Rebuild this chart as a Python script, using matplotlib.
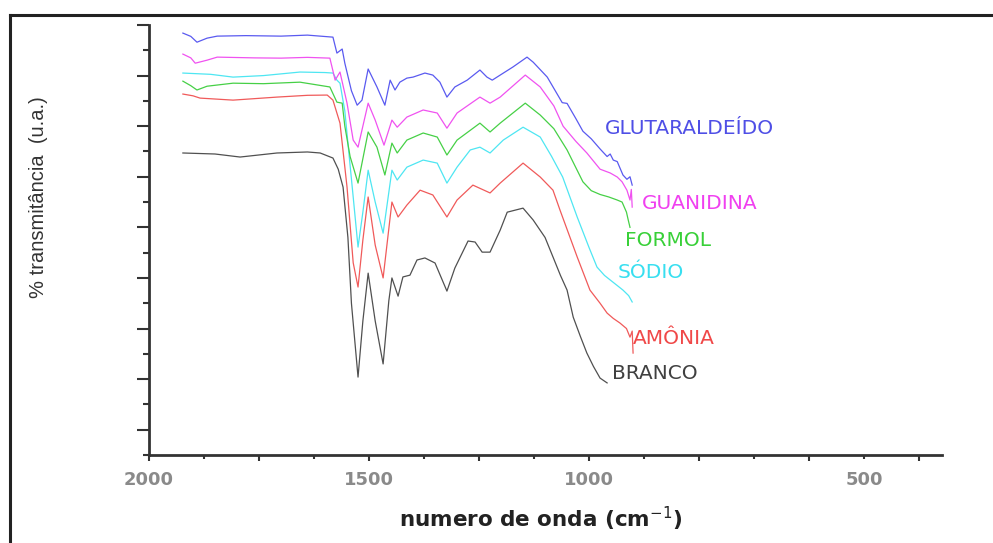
import matplotlib.pyplot as plt
from matplotlib.lines import Line2D
from matplotlib.ticker import MultipleLocator
from matplotlib.transforms import blended_transform_factory

plt.rcParams['font.family'] = ['Liberation Sans', 'DejaVu Sans']

# wavenumber (cm-1) and transmittance (a.u., curves offset)
branco_w = [1923, 1850, 1793, 1709, 1640, 1611, 1582, 1570, 1559, 1548, 1540, 1525, 1514, 1502, 1486,
            1468, 1455, 1448, 1434, 1423, 1407, 1391, 1373, 1350, 1323, 1305, 1275, 1259, 1243, 1225,
            1202, 1186, 1150, 1127, 1100, 1082, 1065, 1050, 1036, 1020, 1005, 990, 975, 959]
branco_t = [11.94, 11.90, 11.78, 11.94, 11.98, 11.94, 11.74, 11.30, 10.59, 8.60, 6.00, 3.08, 5.30, 7.19, 5.30,
            3.60, 6.10, 7.00, 6.28, 7.04, 7.11, 7.71, 7.79, 7.59, 6.48, 7.39, 8.46, 8.42, 8.02, 8.02,
            8.89, 9.60, 9.76, 9.29, 8.60, 7.83, 7.10, 6.52, 5.45, 4.70, 4.03, 3.50, 3.04, 2.85]

amonia_w = [1923, 1900, 1884, 1809, 1709, 1640, 1595, 1582, 1566, 1550, 1536, 1525, 1514, 1502, 1486,
            1468, 1448, 1434, 1414, 1384, 1355, 1323, 1300, 1264, 1225, 1202, 1150, 1111, 1082, 1066,
            1027, 998, 975, 959, 945, 930, 915, 907, 902, 900]
amonia_t = [14.27, 14.20, 14.11, 14.03, 14.15, 14.22, 14.23, 14.03, 13.12, 10.59, 7.60, 6.64, 8.50, 10.20, 8.30,
            7.00, 10.00, 9.41, 9.88, 10.47, 10.28, 9.41, 10.08, 10.67, 10.36, 10.75, 11.54, 10.99, 10.47, 9.68,
            7.83, 6.52, 6.00, 5.61, 5.40, 5.22, 5.00, 4.66, 4.90, 4.03]

sodio_w = [1923, 1860, 1809, 1740, 1657, 1600, 1582, 1573, 1566, 1555, 1545, 1536, 1525, 1514, 1502,
           1486, 1468, 1448, 1436, 1414, 1377, 1345, 1323, 1300, 1270, 1248, 1225, 1195, 1150, 1111,
           1085, 1060, 1027, 1000, 982, 965, 952, 936, 923, 910, 902]
sodio_t = [15.10, 15.05, 14.94, 15.00, 15.14, 15.12, 15.10, 14.82, 14.70, 13.60, 11.80, 10.20, 8.22, 9.60, 11.26,
           10.00, 8.77, 11.26, 10.87, 11.38, 11.66, 11.54, 10.75, 11.38, 12.06, 12.17, 11.94, 12.45, 12.96, 12.57,
           11.80, 10.99, 9.41, 8.20, 7.43, 7.10, 6.92, 6.70, 6.52, 6.30, 6.05]

formol_w = [1923, 1905, 1891, 1868, 1809, 1740, 1657, 1589, 1573, 1561, 1555, 1543, 1525, 1502, 1482,
            1464, 1448, 1436, 1414, 1377, 1345, 1323, 1300, 1248, 1225, 1202, 1145, 1111, 1080, 1050,
            1014, 995, 975, 955, 936, 925, 915, 911, 907]
formol_t = [14.78, 14.60, 14.43, 14.58, 14.70, 14.68, 14.74, 14.55, 13.95, 13.91, 13.00, 11.80, 10.75, 12.77, 12.17,
            11.07, 12.33, 11.94, 12.45, 12.73, 12.57, 11.86, 12.45, 13.12, 12.77, 13.12, 13.91, 13.44, 12.90, 12.06,
            10.80, 10.45, 10.30, 10.20, 10.08, 10.00, 9.60, 9.29, 9.00]

guan_w = [1923, 1905, 1895, 1868, 1845, 1760, 1700, 1640, 1589, 1577, 1566, 1550, 1536, 1525, 1502,
          1486, 1466, 1448, 1436, 1414, 1377, 1345, 1323, 1300, 1248, 1225, 1202, 1145, 1111, 1080,
          1059, 1030, 1005, 975, 952, 936, 925, 914, 907, 904, 902]
guan_t = [15.85, 15.70, 15.49, 15.61, 15.73, 15.70, 15.69, 15.72, 15.69, 14.82, 15.14, 13.91, 12.45, 12.17, 13.91,
          13.24, 12.25, 13.24, 12.96, 13.36, 13.64, 13.52, 12.92, 13.52, 14.15, 13.91, 14.15, 15.02, 14.55, 13.80,
          13.00, 12.40, 11.94, 11.30, 11.15, 10.99, 10.80, 10.47, 10.08, 10.50, 9.80]

glut_w = [1923, 1905, 1891, 1868, 1845, 1780, 1700, 1640, 1611, 1582, 1573, 1561, 1555, 1540, 1527,
          1516, 1502, 1482, 1464, 1452, 1441, 1430, 1414, 1400, 1373, 1355, 1339, 1323, 1305, 1277,
          1248, 1232, 1220, 1202, 1173, 1141, 1127, 1095, 1061, 1050, 1030, 1014, 995, 975, 959,
          952, 945, 936, 923, 914, 907, 902]
glut_t = [16.68, 16.55, 16.32, 16.48, 16.56, 16.58, 16.56, 16.60, 16.56, 16.52, 15.89, 16.05, 15.49, 14.40, 13.83,
          14.03, 15.26, 14.55, 13.83, 14.82, 14.43, 14.74, 14.90, 14.94, 15.10, 15.02, 14.74, 14.15, 14.55, 14.82,
          15.22, 14.94, 14.82, 15.02, 15.34, 15.73, 15.53, 14.94, 13.93, 13.90, 13.30, 12.80, 12.50, 12.10, 11.80,
          11.90, 11.66, 11.60, 11.07, 10.90, 11.00, 10.67]

names = ['BRANCO', 'AMÔNIA', 'SÓDIO', 'FORMOL', 'GUANIDINA', 'GLUTARALDEÍDO']
label_w = [948, 900, 936, 918, 880, 964]
label_t = [3.24, 4.62, 7.23, 8.5, 9.96, 12.92]

series = [(branco_w, branco_t), (amonia_w, amonia_t), (sodio_w, sodio_t),
          (formol_w, formol_t), (guan_w, guan_t), (glut_w, glut_t)]
line_colors = ['#505050', '#f05a5a', '#4ee6f2', '#46d046', '#f052f0', '#5a5af0']
text_colors = ['#404040', '#f04848', '#38dff0', '#38d038', '#f040f0', '#4f4fe6']

fig = plt.figure(figsize=(9.93, 5.43), dpi=100)
ax = fig.add_axes([149 / 993, 88 / 543, 793 / 993, 430 / 543])

for (w, t), c in zip(series, line_colors):
    ax.plot(w, t, color=c, lw=0.9)

for name, lw_, lt, c in zip(names, label_w, label_t, text_colors):
    ax.text(lw_, lt, name, color=c, fontsize=14.5, ha='left', va='center',
            family='DejaVu Sans')

ax.set_xlim(2000, 198)
ax.set_ylim(0, 17)

ax.xaxis.set_major_locator(MultipleLocator(250))
ax.xaxis.set_minor_locator(MultipleLocator(125))
ax.yaxis.set_major_locator(MultipleLocator(2, offset=1))
ax.yaxis.set_minor_locator(MultipleLocator(1))
ax.set_xticklabels([])
ax.set_yticklabels([])

spine_c = '#333333'
for s in ['top', 'right']:
    ax.spines[s].set_visible(False)
for s in ['left', 'bottom']:
    ax.spines[s].set_color(spine_c)
    ax.spines[s].set_linewidth(2.0)

ax.tick_params(axis='y', which='major', direction='out', length=8.5, width=1.5, color=spine_c)
ax.tick_params(axis='y', which='minor', direction='out', length=4.3, width=1.5, color=spine_c)
ax.tick_params(axis='x', which='major', direction='out', length=4.5, width=1.5, color=spine_c)
ax.tick_params(axis='x', which='minor', direction='out', length=3.0, width=1.5, color=spine_c)

# tick labels as drawn in the original (the "500" sits off its tick)
xlab_pos = [2000, 1500, 1000, 375]
xlab_txt = ['2000', '1500', '1000', '500']
trans = blended_transform_factory(ax.transData, ax.transAxes)
for p, s in zip(xlab_pos, xlab_txt):
    ax.text(p, -0.058, s, transform=trans, ha='center', va='center',
            fontsize=13, fontweight='bold', color='#8a8a8a', family='DejaVu Sans')

ax.set_xlabel('numero de onda (cm$^{-1}$)', fontsize=15.5, fontweight='bold',
              color='#222222', family='DejaVu Sans')
ax.xaxis.set_label_coords(0.494, -0.115)
ax.set_ylabel('% transmitância  (u.a.)', fontsize=14.5, color='#333333',
              family='Liberation Sans')
ax.yaxis.set_label_coords(-0.127, 0.60)

# outer frame lines
fig.add_artist(Line2D([10 / 993, 10 / 993], [0, 1 - 15 / 543], color='#222222', lw=2.2))
fig.add_artist(Line2D([10 / 993, 1], [1 - 15 / 543, 1 - 15 / 543], color='#222222', lw=2.2))

fig.savefig('out.png', dpi=100)
